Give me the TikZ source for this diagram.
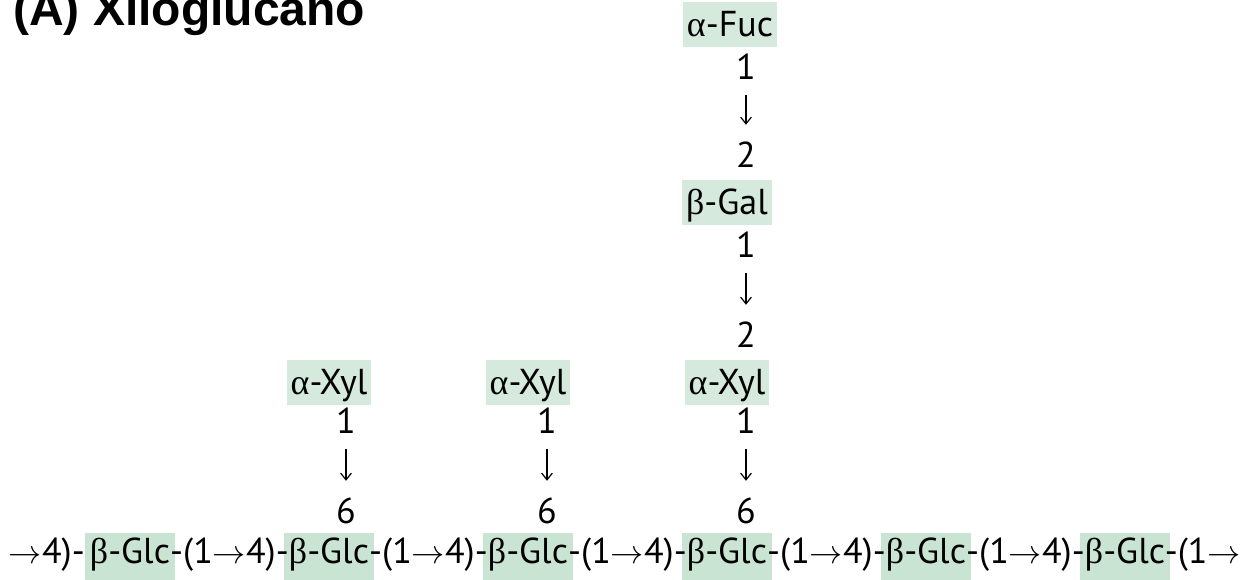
\documentclass[tikz,border=0pt]{standalone}
\usepackage{fontspec}
\setmainfont{PT Sans}
\newfontfamily\symfont{Liberation Serif}
\newfontfamily\titlefont{Liberation Sans}
\usetikzlibrary{positioning,arrows.meta,calc}
\definecolor{glcgreen}{RGB}{202,228,211}
\definecolor{sugargreen}{RGB}{213,234,220}
\newcommand{\al}{{\symfont α}}
\newcommand{\be}{{\symfont β}}
\newcommand{\ra}{\ensuremath{\rightarrow}}
\tikzset{
  px/.style={x=0.75pt,y=-0.75pt},
  txt/.style={font=\fontsize{27}{32}\selectfont},
  res/.style={txt,fill=sugargreen,inner xsep=3pt,inner ysep=0pt,text height=26pt,text depth=7.5pt,anchor=base},
  glc/.style={txt,fill=glcgreen,inner xsep=3.5pt,inner ysep=0pt,text height=23.25pt,text depth=16pt,anchor=base west},
  lnk/.style={txt,inner sep=0pt},
  num/.style={txt,inner sep=0pt,anchor=base},
  glyc/.style={-{Straight Barb[length=5pt,width=8pt]},line width=0.9pt,shorten <=11pt,shorten >=13pt},
  ttl/.style={font=\titlefont\bfseries\fontsize{36}{40}\selectfont,anchor=base west,inner sep=0pt}
}
\begin{document}
\begin{tikzpicture}[px]
\useasboundingbox (0,0) rectangle (1247,580);
\clip (0,0) rectangle (1247,580);
\node[ttl] (title) at (13,26) {(A) Xiloglucano};
% main chain
\foreach \i in {0,...,5}
  \node[glc] (glc\i) at (85+199*\i,564) {\be-Glc};
\node[lnk,anchor=base east] (l0) at (glc0.base west) {\ra4)-};
\foreach \i [evaluate=\i as \j using int(\i+1)] in {0,...,4}
  \node[lnk,anchor=base] (l\j) at ($(glc\i.base east)!0.5!(glc\j.base west)$) {-(1\ra4)-};
\node[lnk,anchor=base west,xshift=-4pt] (l6) at (glc5.base east) {-(1\ra};
% xylose side chains
\foreach \xn/\xd [count=\i] in {329/346,528/547,727/746}{
  \node[res] (xyl\i) at (\xn,395) {\al-Xyl};
  \node[num] (one\i) at (\xd,434) {1};
  \node[num] (six\i) at (\xd,524) {6};
  \draw[glyc] (one\i) -- (six\i);
}
% galactose and fucose on the third xylose
\node[num] (two1) at (746,348) {2};
\node[res] (gal) at (727,215) {\be-Gal};
\node[num] (one4) at (746,258) {1};
\node[num] (two2) at (746,168) {2};
\node[res] (fuc) at (730,37) {\al-Fuc};
\node[num] (one5) at (746,80) {1};
\draw[glyc] (one4) -- (two1);
\draw[glyc] (one5) -- (two2);
\end{tikzpicture}
\end{document}
